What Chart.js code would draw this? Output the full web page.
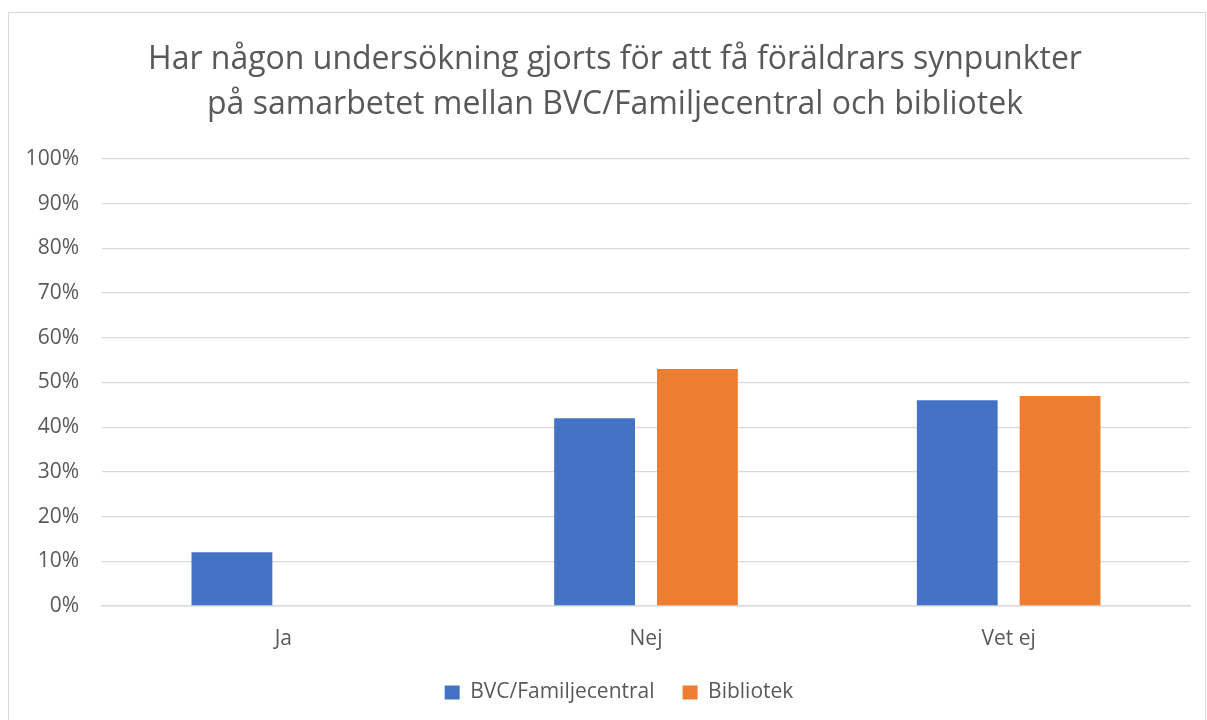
<!DOCTYPE html>
<html><head><meta charset="utf-8">
<script src="https://cdn.jsdelivr.net/npm/chart.js@4"></script>
<style>
body{margin:0;background:#fff;}
#frame{position:absolute;left:8px;top:12px;width:1198px;height:720px;border:1px solid #d9d9d9;box-sizing:border-box;}
#wrap{position:absolute;left:0;top:0;width:1207px;height:720px;}
</style>
</head><body>
<div id="frame"></div>
<div id="wrap"><canvas id="c" width="1207" height="720"></canvas></div>
<script>
const titleLines = ['Har någon undersökning gjorts för att få föräldrars synpunkter', 'på samarbetet mellan BVC/Familjecentral och bibliotek'];
const categories = ['Ja', 'Nej', 'Vet ej'];
const seriesNames = ['BVC/Familjecentral', 'Bibliotek'];
const bvcValues = [12, 42, 46];
const bibliotekValues = [0, 53, 47];
const yMin = 0, yMax = 100, yStep = 10;

const grey = '#595959';
const tickFont = {family: 'Open Sans', size: 21};

// shift title and legend so they sit like the original
const placeShift = {
  id: 'placeShift',
  afterLayout(chart) {
    const t = chart.titleBlock, l = chart.legend;
    if (t) { t.left += 10; t.right += 10; }
    if (l) { l.left += 14; l.right += 14; l.top -= 7; l.bottom -= 7; }
  }
};

new Chart(document.getElementById('c'), {
  type: 'bar',
  data: {
    labels: categories,
    datasets: [
      {label: seriesNames[0], data: bvcValues, backgroundColor: '#4472C4', borderWidth: 0},
      {label: seriesNames[1], data: bibliotekValues, backgroundColor: '#ED7D31', borderWidth: 0}
    ]
  },
  plugins: [placeShift],
  options: {
    responsive: false,
    animation: false,
    layout: {padding: {left: 20, right: 17, top: 0, bottom: 0}},
    datasets: {bar: {categoryPercentage: 0.567, barPercentage: 0.786}},
    plugins: {
      title: {
        display: true, text: titleLines, color: grey,
        font: {family: 'Open Sans', size: 32, weight: 'normal', lineHeight: 1.406},
        padding: {top: 37, bottom: 32}
      },
      legend: {
        position: 'bottom',
        labels: {color: grey, font: tickFont, boxWidth: 15, boxHeight: 14, padding: 28}
      },
      tooltip: {enabled: false}
    },
    scales: {
      x: {
        grid: {display: false, drawTicks: false},
        border: {display: true, color: '#d9d9d9', width: 1.5},
        ticks: {color: grey, font: tickFont, padding: 20},
        afterFit: s => { s.height = 55; }
      },
      y: {
        min: yMin, max: yMax,
        grid: {color: '#d9d9d9', lineWidth: 1.3, drawTicks: false},
        border: {display: false},
        ticks: {stepSize: yStep, color: grey, font: tickFont, padding: 23, callback: v => v + '%'},
        afterFit: s => { s.width = 82; }
      }
    }
  }
});
</script>
</body></html>
